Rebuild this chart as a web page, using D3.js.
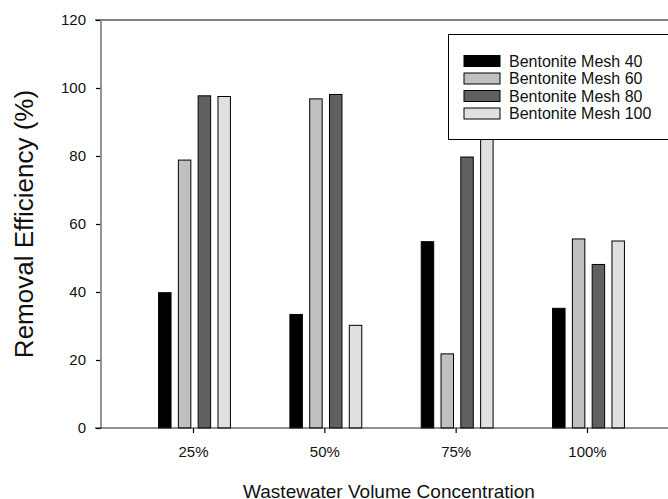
<!DOCTYPE html>
<html>
<head>
<meta charset="utf-8">
<script src="https://cdn.jsdelivr.net/npm/d3@7"></script>
<style>
  body { margin: 0; background: #fff; }
  svg { display: block; font-family: "Liberation Sans", Arial, sans-serif; }
</style>
</head>
<body>
<div class="chart"></div>
<script>
// data
const categories = ['25%', '50%', '75%', '100%'];
const seriesNames = ['Bentonite Mesh 40', 'Bentonite Mesh 60', 'Bentonite Mesh 80', 'Bentonite Mesh 100'];
const mesh40 = [39.8, 33.4, 54.8, 35.2];
const mesh60 = [78.8, 96.8, 21.8, 55.6];
const mesh80 = [97.7, 98.1, 79.7, 48.1];
const mesh100 = [97.5, 30.2, 88.0, 55.0];
const yTicks = [0, 20, 40, 60, 80, 100, 120];
const colors = ['#000000', '#c0c0c0', '#606060', '#e0e0e0'];

const seriesValues = [mesh40, mesh60, mesh80, mesh100];

const width = 668, height = 499;
const plot = { left: 101, top: 20, right: 720, bottom: 428 };

const svg = d3.select('.chart')
  .append('svg')
  .attr('width', width)
  .attr('height', height);

// Scales
const yScale = d3.scaleLinear().domain([0, 120]).range([plot.bottom, plot.top]);
const xScale = d3.scalePoint().domain(categories).range([193, 587]);
const inner = d3.scaleBand().domain(seriesNames).range([-39.6, 39.6])
  .paddingInner(0.37).paddingOuter(0.185);

// Bars
const groups = svg.append('g').selectAll('g')
  .data(categories)
  .enter()
  .append('g')
  .attr('transform', d => 'translate(' + (xScale(d) + 1.5) + ',0)');

groups.selectAll('rect')
  .data((c, i) => seriesNames.map((s, j) => ({ s: s, j: j, v: seriesValues[j][i] })))
  .enter()
  .append('rect')
  .attr('x', d => inner(d.s))
  .attr('width', inner.bandwidth())
  .attr('y', d => yScale(d.v))
  .attr('height', d => yScale(0) - yScale(d.v))
  .attr('fill', d => colors[d.j])
  .attr('stroke', '#000')
  .attr('stroke-width', 1);

// top frame line
svg.append('line')
  .attr('x1', 95).attr('x2', plot.right)
  .attr('y1', plot.top).attr('y2', plot.top)
  .attr('stroke', '#000').attr('stroke-width', 1.2);

// Axis - y
const yaxis = d3.axisLeft(yScale).tickValues(yTicks).tickSize(5).tickPadding(10);
const gy = svg.append('g')
  .attr('transform', 'translate(' + plot.left + ',0)')
  .call(yaxis);
gy.select('.domain').remove();
gy.selectAll('.tick line').attr('stroke', '#000').attr('stroke-width', 1.2);
gy.selectAll('.tick text').attr('font-size', 15).attr('fill', '#111')
  .attr('font-family', '"Liberation Sans", Arial, sans-serif');
svg.append('line')
  .attr('x1', plot.left).attr('x2', plot.left)
  .attr('y1', plot.top).attr('y2', plot.bottom)
  .attr('stroke', '#888').attr('stroke-width', 1.8);

// Axis - x
const xaxis = d3.axisBottom(xScale).tickSize(5).tickPadding(13);
const gx = svg.append('g')
  .attr('transform', 'translate(0,' + plot.bottom + ')')
  .call(xaxis);
gx.select('.domain').remove();
gx.selectAll('.tick line').attr('stroke', '#000').attr('stroke-width', 1.2);
gx.selectAll('.tick text').attr('font-size', 15).attr('fill', '#111')
  .attr('font-family', '"Liberation Sans", Arial, sans-serif');
svg.append('line')
  .attr('x1', 95).attr('x2', plot.right)
  .attr('y1', plot.bottom).attr('y2', plot.bottom)
  .attr('stroke', '#222').attr('stroke-width', 1.2);

// Titles
svg.append('text')
  .attr('transform', 'translate(32.5,224) rotate(-90)')
  .attr('text-anchor', 'middle')
  .attr('font-size', 26)
  .attr('fill', '#111')
  .text('Removal Efficiency (%)');

svg.append('text')
  .attr('x', 389)
  .attr('y', 497.5)
  .attr('text-anchor', 'middle')
  .attr('font-size', 19)
  .attr('fill', '#111')
  .text('Wastewater Volume Concentration');

// Legend
const legend = svg.append('g');
legend.append('rect')
  .attr('x', 448.5).attr('y', 34.5)
  .attr('width', 240).attr('height', 105)
  .attr('fill', '#fff').attr('stroke', '#000').attr('stroke-width', 1);

const items = legend.selectAll('.item')
  .data(seriesNames)
  .enter()
  .append('g')
  .attr('transform', (d, i) => 'translate(464,' + (61 + i * 17.5) + ')');

items.append('rect')
  .attr('x', 0).attr('y', -5.5)
  .attr('width', 36).attr('height', 11)
  .attr('fill', (d, i) => colors[i])
  .attr('stroke', '#000').attr('stroke-width', 1);

items.append('text')
  .attr('x', 45).attr('dy', '0.36em')
  .attr('font-size', 16)
  .attr('fill', '#111')
  .text(d => d);
</script>
</body>
</html>
